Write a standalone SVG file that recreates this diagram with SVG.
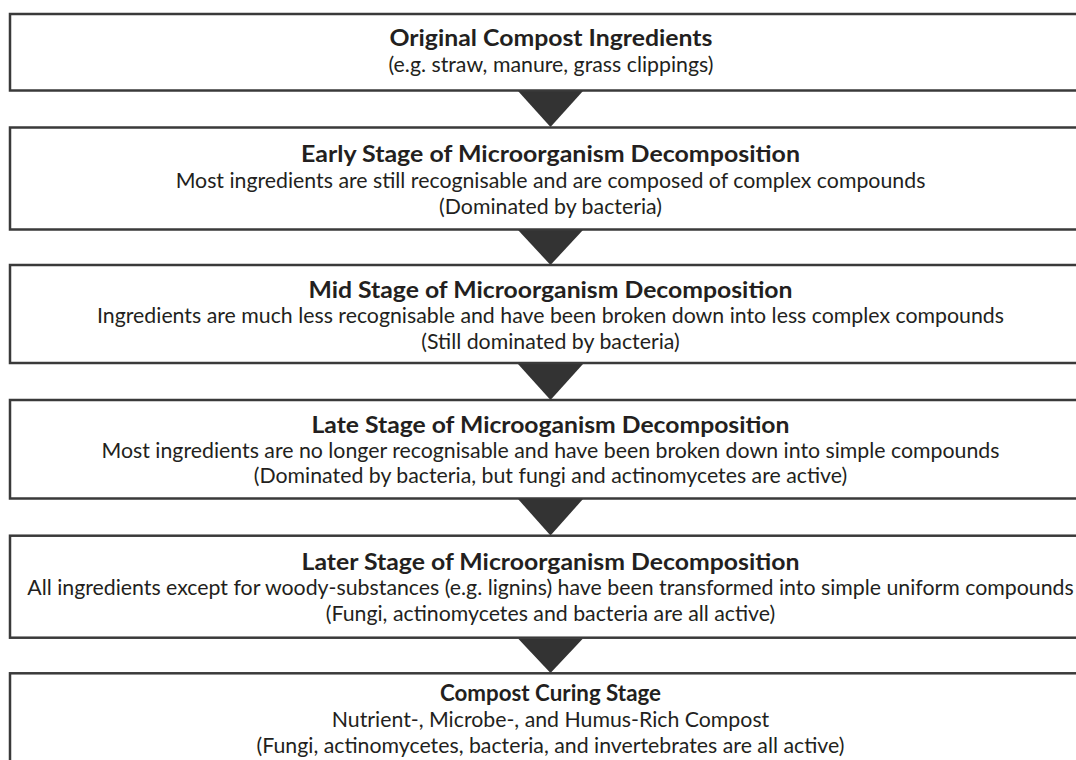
<svg xmlns="http://www.w3.org/2000/svg" width="1076" height="760" viewBox="0 0 1076 760">
<style>
.box{fill:#ffffff;stroke:#3a3a3a;stroke-width:2.5}
.arr{fill:#333333;stroke:none}
text{font-family:Lato,"Open Sans","Liberation Sans",sans-serif;fill:#231f20;text-anchor:middle}
.t{font-size:23px;font-weight:bold}
.b{font-size:21.3px}
</style>
<rect width="1076" height="760" fill="#ffffff"/>
<g id="connectors">
<polygon class="arr" points="518,91 583,91 550.5,127"/>
<polygon class="arr" points="518,230 583,230 550.5,265"/>
<polygon class="arr" points="518,364 583,364 550.5,400"/>
<polygon class="arr" points="518,499 583,499 550.5,535.5"/>
<polygon class="arr" points="518,638.5 583,638.5 550.5,673"/>
</g>
<g id="n1">
<rect class="box" x="10" y="14" width="1081" height="76.5"/>
<text class="t" x="551" y="46" textLength="323" lengthAdjust="spacingAndGlyphs">Original Compost Ingredients</text>
<text class="b" x="551" y="72">(e.g. straw, manure, grass clippings)</text>
</g>
<g id="n2">
<rect class="box" x="10" y="127.5" width="1081" height="102"/>
<text class="t" x="550.5" y="162.3" textLength="499" lengthAdjust="spacingAndGlyphs">Early Stage of Microorganism Decomposition</text>
<text class="b" x="550.5" y="188.3">Most ingredients are still recognisable and are composed of complex compounds</text>
<text class="b" x="550.5" y="214">(Dominated by bacteria)</text>
</g>
<g id="n3">
<rect class="box" x="10" y="265" width="1081" height="98"/>
<text class="t" x="550.5" y="297.5" textLength="484" lengthAdjust="spacingAndGlyphs">Mid Stage of Microorganism Decomposition</text>
<text class="b" x="550.5" y="323">Ingredients are much less recognisable and have been broken down into less complex compounds</text>
<text class="b" x="550.5" y="348.5">(Still dominated by bacteria)</text>
</g>
<g id="n4">
<rect class="box" x="10" y="400" width="1081" height="98.5"/>
<text class="t" x="550.5" y="432.7" textLength="478" lengthAdjust="spacingAndGlyphs">Late Stage of Microoganism Decomposition</text>
<text class="b" x="550.5" y="457.5">Most ingredients are no longer recognisable and have been broken down into simple compounds</text>
<text class="b" x="550.5" y="482.7">(Dominated by bacteria, but fungi and actinomycetes are active)</text>
</g>
<g id="n5">
<rect class="box" x="10" y="535.7" width="1081" height="102"/>
<text class="t" x="550.5" y="570" textLength="498" lengthAdjust="spacingAndGlyphs">Later Stage of Microorganism Decomposition</text>
<text class="b" x="550.5" y="595">All ingredients except for woody-substances (e.g. lignins) have been transformed into simple uniform compounds</text>
<text class="b" x="550.5" y="620.5">(Fungi, actinomycetes and bacteria are all active)</text>
</g>
<g id="n6">
<rect class="box" x="10" y="673.3" width="1081" height="100"/>
<text class="t" x="550.5" y="700.7" textLength="221" lengthAdjust="spacingAndGlyphs">Compost Curing Stage</text>
<text class="b" x="550.5" y="726.7">Nutrient-, Microbe-, and Humus-Rich Compost</text>
<text class="b" x="550.5" y="752.7">(Fungi, actinomycetes, bacteria, and invertebrates are all active)</text>
</g>
</svg>
